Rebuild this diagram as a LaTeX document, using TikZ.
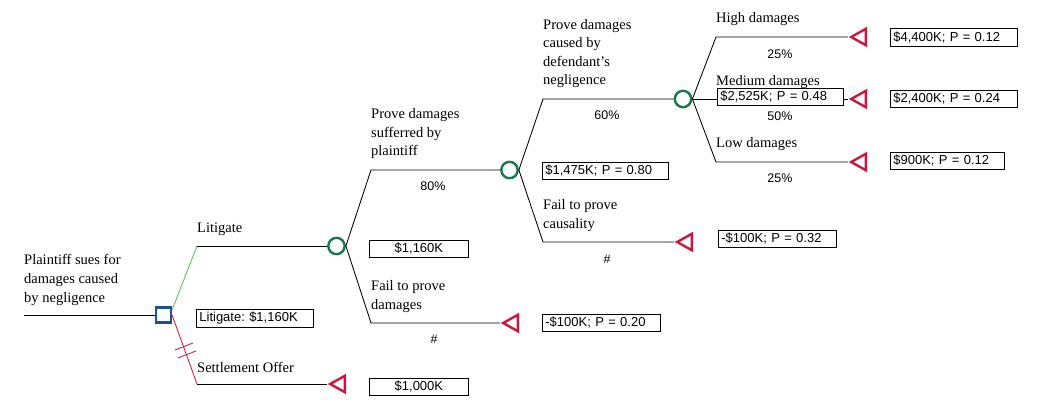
\documentclass[tikz,border=0pt]{standalone}
\usepackage{fontspec}
\setmainfont{Liberation Serif}
\newfontfamily\arialf{Liberation Sans}
\usetikzlibrary{shapes.geometric,calc}
\frenchspacing
\definecolor{termred}{RGB}{200,24,60}
\definecolor{chgreen}{RGB}{24,122,74}
\definecolor{decblue}{RGB}{32,76,160}
\definecolor{litgreen}{RGB}{90,200,90}
\definecolor{setred}{RGB}{196,40,72}
\tikzset{
  lbl/.style={font=\fontsize{14.5}{18.6}\selectfont, align=left, inner sep=0, anchor=base west},
  pct/.style={font=\arialf\fontsize{12.5}{15}\selectfont, inner sep=0},
  valbox/.style={draw, fill=white, line width=0.8pt, font=\arialf\fontsize{13}{15}\selectfont, inner xsep=3pt, inner ysep=0pt, anchor=north west, align=left},
  branch/.style={line width=0.85pt},
  decnode/.style={draw=decblue, line width=2.5pt, minimum size=14.6pt, inner sep=0, rectangle},
  chnode/.style={draw=chgreen, line width=2.4pt, minimum size=16.4pt, inner sep=0, circle},
  termnode/.style={draw=termred, line width=2.4pt, isosceles triangle, shape border rotate=180, isosceles triangle stretches, minimum width=16.5pt, minimum height=14.8pt, inner sep=0, anchor=apex}
}
\begin{document}
\begin{tikzpicture}[x=1pt,y=-1pt]
\useasboundingbox (0,0) rectangle (1042,406);
% nodes
\coordinate (root) at (24,315);
\node[decnode] (dec) at (163.5,315) {};
\node[chnode] (c1) at (336.5,246) {};
\node[chnode] (c2) at (509.5,170) {};
\node[chnode] (c3) at (683,99) {};
\node[termnode] (tset) at (327,384) {};
\node[termnode] (tfd) at (500,323) {};
\node[termnode] (tfc) at (674,242) {};
\node[termnode] (thi) at (848,37) {};
\node[termnode] (tmed) at (848,99) {};
\node[termnode] (tlow) at (848,162) {};
% knees
\coordinate (klit) at (197,246);
\coordinate (kset) at (197,384);
\coordinate (k1u) at (371,170);
\coordinate (k1d) at (371,323);
\coordinate (k2u) at (543,99);
\coordinate (k2d) at (543,242);
\coordinate (k3u) at (716,37);
\coordinate (k3d) at (716,162);
% connectors
\draw[branch] (root) -- (dec.west);
\draw[litgreen, line width=0.9pt] ([yshift=5pt]dec.east) -- (klit);
\draw[branch] (klit) -- (c1.west);
\draw[setred, line width=0.9pt] (dec.east) -- (kset);
\draw[branch] (kset) -- (tset.apex);
\draw[setred, line width=0.9pt] (175,350) -- (193,343) (178,358) -- (196,351);
\draw[branch] (c1.east) -- (k1u) -- (c2.west);
\draw[branch] (c1.east) -- (k1d) -- (tfd.apex);
\draw[branch] (c2.east) -- (k2u) -- (c3.west);
\draw[branch] (c2.east) -- (k2d) -- (tfc.apex);
\draw[branch] (c3.east) -- (k3u) -- (thi.apex);
\draw[branch] (c3.east) -- (tmed.apex);
\draw[branch] (c3.east) -- (k3d) -- (tlow.apex);
% labels (anchor = baseline of last line)
\node[lbl] (lroot) at (24,302) {Plaintiff sues for\\damages caused\\by negligence};
\node[lbl] (llit) at (197,233) {Litigate};
\node[lbl] (lset) at (197,372) {Settlement Offer};
\node[lbl] (lpd) at (371,156) {Prove damages\\sufferred by\\plaintiff};
\node[lbl] (lfd) at (371,309.5) {Fail to prove\\damages};
\node[lbl] (lpc) at (543,85) {Prove damages\\caused by\\defendant's\\negligence};
\node[lbl] (lfc) at (543,228.5) {Fail to prove\\causality};
\node[lbl] (lhi) at (716,23) {High damages};
\node[lbl] (lmed) at (716,86) {Medium damages};
\node[lbl] (llow) at (716,148) {Low damages};
% percentages
\node[pct] (p80) at (433,186) {80\%};
\node[pct] (ph1) at (434,339) {\#};
\node[pct] (p60) at (607,115) {60\%};
\node[pct] (ph2) at (607,259) {\#};
\node[pct] (p25a) at (780,54) {25\%};
\node[pct] (p50) at (780,116) {50\%};
\node[pct] (p25b) at (780,178) {25\%};
% value boxes
\node[valbox, minimum width=117pt, minimum height=18pt, text width=111pt] (blit) at (196,309) {Litigate: \$1,160K};
\node[valbox, minimum width=99pt, minimum height=17pt, text width=93pt, align=center] (bc1) at (369,240) {\$1,160K};
\node[valbox, minimum width=99pt, minimum height=17pt, text width=93pt, align=center] (bset) at (369,378) {\$1,000K};
\node[valbox, minimum width=118pt, minimum height=17pt, text width=112pt] (bfd) at (542,314) {-\$100K; P = 0.20};
\node[valbox, minimum width=126pt, minimum height=17pt, text width=120pt] (bc2) at (542,162) {\$1,475K; P = 0.80};
\node[valbox, minimum width=118pt, minimum height=17pt, text width=112pt] (bfc) at (718,230) {-\$100K; P = 0.32};
\node[valbox, minimum width=126pt, minimum height=17pt, text width=120pt] (bc3) at (717,88) {\$2,525K; P = 0.48};
\node[valbox, minimum width=127pt, minimum height=18pt, text width=121pt] (bhi) at (890,28) {\$4,400K; P = 0.12};
\node[valbox, minimum width=127pt, minimum height=17pt, text width=121pt] (bmed) at (890,90) {\$2,400K; P = 0.24};
\node[valbox, minimum width=114pt, minimum height=17pt, text width=108pt] (blow) at (890,152) {\$900K; P = 0.12};
\end{tikzpicture}
\end{document}
